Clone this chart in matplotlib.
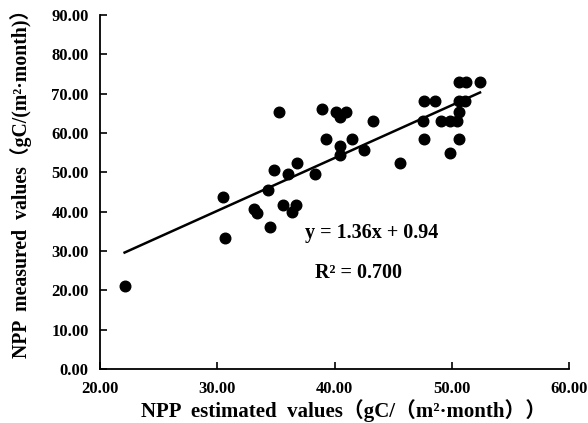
import matplotlib
matplotlib.use("Agg")
import matplotlib.pyplot as plt

plt.rcParams['font.family'] = ['Liberation Serif', 'Noto Sans CJK SC', 'DejaVu Sans']
plt.rcParams['font.weight'] = 'bold'

est = [22.1, 30.5, 30.7, 33.1, 33.4, 34.35, 34.5, 34.8, 35.26, 35.6, 36.0, 36.4,
       36.7, 36.8, 38.3, 38.9, 39.3, 40.1, 40.5, 41.0, 40.5, 40.5, 41.45, 42.5,
       43.3, 45.6, 47.6, 48.6, 47.5, 47.6, 49.1, 49.8, 50.4, 50.6, 50.6, 51.1,
       50.6, 51.2, 52.4, 50.6, 49.8]
meas = [21.1, 43.8, 33.4, 40.6, 39.7, 45.5, 36.1, 50.5, 65.3, 41.6, 49.7, 39.9,
        41.6, 52.5, 49.7, 66.0, 58.5, 65.3, 64.1, 65.3, 56.6, 54.5, 58.5, 55.6,
        63.0, 52.5, 68.2, 68.2, 63.0, 58.5, 63.0, 63.0, 63.0, 65.3, 68.2, 68.2,
        73.0, 73.0, 73.0, 58.5, 54.9]
trend_x = [22.1, 52.4]
trend_y = [29.6, 70.3]
xticks = [20, 30, 40, 50, 60]
yticks = [0, 10, 20, 30, 40, 50, 60, 70, 80, 90]

fig = plt.figure(figsize=(5.88, 4.23), dpi=100)
ax = fig.add_axes([0.170, 0.1277, 0.798, 0.8368])
ax.scatter(est, meas, s=58, color='black', zorder=3)
ax.plot(trend_x, trend_y, color='black', lw=1.8)

ax.set_xlim(20, 60)
ax.set_ylim(0, 90)
ax.set_xticks(xticks)
ax.set_yticks(yticks)
ax.set_xticklabels([f"{v:.2f}" for v in xticks], fontsize=12, fontweight='bold')
ax.set_yticklabels([f"{v:.2f}" for v in yticks], fontsize=12, fontweight='bold')
ax.tick_params(direction='in', length=5, width=1.2)
ax.tick_params(axis='x', pad=9)
ax.tick_params(axis='y', pad=8)
for s in ['top', 'right']:
    ax.spines[s].set_visible(False)
for s in ['left', 'bottom']:
    ax.spines[s].set_linewidth(1.3)

ax.set_xlabel("NPP  estimated  values（gC/（m²·month））", fontsize=15,
              fontweight='bold', labelpad=1)
ax.xaxis.label.set_x(0.519)
ax.set_ylabel("NPP  measured  values（gC/(m²·month)）", fontsize=14.2,
              fontweight='bold', labelpad=14)
ax.yaxis.label.set_y(0.537)

ax.text(37.5, 34.6, "y = 1.36x + 0.94", fontsize=14.5, fontweight='bold', va='center')
ax.text(38.3, 24.5, "R² = 0.700", fontsize=14.5, fontweight='bold', va='center')

fig.savefig("out.png", dpi=100)
